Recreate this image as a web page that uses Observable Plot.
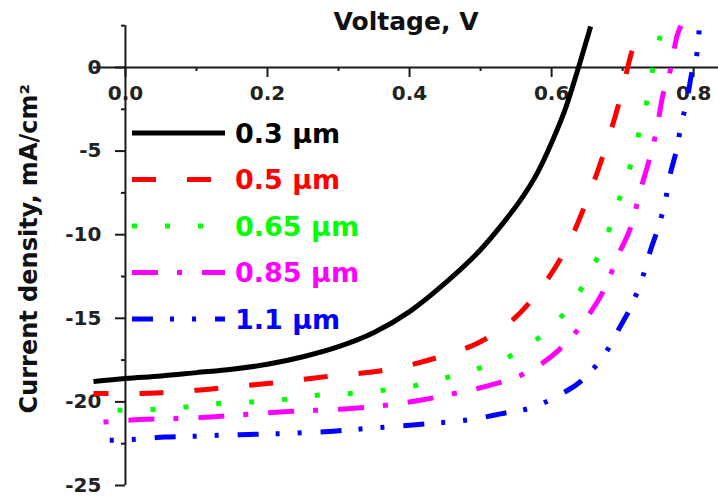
<!DOCTYPE html>
<html><head><meta charset="utf-8">
<script src="https://cdn.jsdelivr.net/npm/d3@7"></script>
<script src="https://cdn.jsdelivr.net/npm/@observablehq/plot@0.6"></script>
<style>
body{margin:0;background:#fff;}
#chart{position:relative;width:718px;height:496px;overflow:hidden;}
</style></head><body><div id="chart"></div>
<script>
// Series metadata
const seriesNames = ["0.3 \u03bcm", "0.5 \u03bcm", "0.65 \u03bcm", "0.85 \u03bcm", "1.1 \u03bcm"];
const seriesColors = ["#000000", "#ff0000", "#00ff00", "#ff00ff", "#0000ff"];
const seriesDash = [null, "24,31", "5,28", "26,19,5,20", "21,17,4,18,4,19"];
const seriesDashOffset = [0, 9, 9, 35, 21];

// Voltage (V) and current density (mA/cm^2) per series
const v03 = [-0.045, 0, 0.05, 0.1, 0.15, 0.2, 0.25, 0.3, 0.35, 0.4, 0.45, 0.5, 0.53, 0.56, 0.58, 0.6, 0.62, 0.64, 0.655];
const j03 = [-18.78, -18.6, -18.45, -18.25, -18.05, -17.75, -17.3, -16.7, -15.85, -14.6, -12.9, -10.9, -9.4, -7.7, -6.3, -4.5, -2.4, 0.3, 2.45];

const v05 = [-0.045, 0, 0.05, 0.1, 0.15, 0.2, 0.25, 0.3, 0.35, 0.4, 0.45, 0.5, 0.54, 0.576, 0.6, 0.622, 0.651, 0.676, 0.697, 0.715, 0.725];
const j05 = [-19.5, -19.5, -19.45, -19.3, -19.1, -18.9, -18.65, -18.4, -18.2, -17.8, -17.2, -16.4, -15.3, -13.7, -12.3, -10.7, -7.8, -4.8, -1.8, 1.2, 2.0];

const v065 = [-0.045, -0.008, 0.039, 0.085, 0.131, 0.179, 0.225, 0.27, 0.317, 0.363, 0.411, 0.456, 0.504, 0.549, 0.596, 0.632, 0.656, 0.676, 0.69, 0.704, 0.717, 0.727, 0.737, 0.744, 0.754];
const j065 = [-20.55, -20.5, -20.45, -20.3, -20.1, -20.0, -19.85, -19.6, -19.5, -19.3, -19.0, -18.5, -17.9, -17.1, -15.65, -13.9, -12.1, -10.3, -8.55, -6.8, -5.0, -3.2, -1.5, 0.3, 2.0];

const v085 = [-0.045, -0.028, 0.021, 0.07, 0.12, 0.168, 0.218, 0.268, 0.317, 0.366, 0.415, 0.463, 0.514, 0.562, 0.61, 0.649, 0.676, 0.694, 0.713, 0.724, 0.737, 0.748, 0.756, 0.768, 0.776, 0.782];
const j085 = [-21.25, -21.2, -21.05, -21.0, -20.9, -20.75, -20.6, -20.5, -20.4, -20.2, -19.9, -19.5, -19.0, -18.3, -16.9, -15.0, -13.1, -11.2, -9.35, -7.5, -5.6, -3.7, -1.8, 0, 1.8, 2.5];

const v11 = [-0.046, -0.018, 0.011, 0.056, 0.1, 0.13, 0.173, 0.218, 0.249, 0.293, 0.337, 0.368, 0.413, 0.455, 0.486, 0.53, 0.575, 0.606, 0.648, 0.68, 0.694, 0.715, 0.73, 0.738, 0.751, 0.761, 0.766, 0.776, 0.783, 0.79, 0.797, 0.806, 0.808];
const j11 = [-22.3, -22.3, -22.25, -22.1, -22.05, -22.0, -21.95, -21.9, -21.85, -21.75, -21.6, -21.5, -21.35, -21.2, -21.05, -20.7, -20.3, -19.7, -18.5, -16.8, -15.7, -14.0, -12.3, -11.1, -9.45, -7.8, -6.6, -4.9, -3.3, -2.1, -0.4, 1.25, 2.45];

const voltages = [v03, v05, v065, v085, v11];
const currents = [j03, j05, j065, j085, j11];

// Axes
const xMajorTicks = [0, 0.2, 0.4, 0.6, 0.8];
const xMinorTicks = [0.1, 0.3, 0.5, 0.7];
const xTickLabels = ["0.0", "0.2", "0.4", "0.6", "0.8"];
const yMajorTicks = [0, -5, -10, -15, -20, -25];
const yMinorTicks = [2.5, -2.5, -7.5, -12.5, -17.5, -22.5];
const yTickLabels = ["0", "-5", "-10", "-15", "-20", "-25"];
const xTitle = "Voltage, V";
const yTitle = "Current density, mA/cm\u00b2";

const series = seriesNames.map((name, k) =>
  voltages[k].map((v, i) => ({v, j: currents[k][i], name}))
);

const axisColor = "#1a1a1a";
const lineMarks = series.map((data, k) =>
  Plot.line(data, {
    x: "v", y: "j", stroke: seriesColors[k], strokeWidth: 5,
    strokeDasharray: seriesDash[k] || undefined,
    strokeDashoffset: seriesDashOffset[k],
    strokeLinecap: "butt",
    curve: "monotone-x", clip: true
  })
);

const chart = Plot.plot({
  width: 718, height: 496,
  marginLeft: 93, marginRight: 0, marginTop: 23.5, marginBottom: 11,
  style: {fontFamily: "DejaVu Sans", fontWeight: "bold", background: "#fff", overflow: "visible"},
  x: {domain: [-0.045, 0.835], axis: null},
  y: {domain: [-25, 2.6], axis: null},
  marks: [
    // axis lines
    Plot.ruleY([0], {stroke: axisColor, strokeWidth: 2}),
    Plot.ruleX([0], {y1: -25, y2: 2.5, stroke: axisColor, strokeWidth: 2}),
    // x ticks (downward from y=0)
    Plot.ruleX(xMajorTicks, {x: d => d, y1: 0, y2: 0, insetBottom: -10, stroke: axisColor, strokeWidth: 2}),
    Plot.ruleX(xMinorTicks, {x: d => d, y1: 0, y2: 0, insetBottom: -4, stroke: axisColor, strokeWidth: 2}),
    // y ticks (leftward from x=0)
    Plot.ruleY(yMajorTicks, {y: d => d, x1: 0, x2: 0, insetLeft: -10, stroke: axisColor, strokeWidth: 2}),
    Plot.ruleY(yMinorTicks, {y: d => d, x1: 0, x2: 0, insetLeft: -4, stroke: axisColor, strokeWidth: 2}),
    // tick labels
    Plot.text(xMajorTicks, {x: d => d, y: 0, text: (d, i) => xTickLabels[i], dy: 26, fontSize: 20, fill: "#222"}),
    Plot.text(yMajorTicks, {x: 0, y: d => d, text: (d, i) => yTickLabels[i], dx: -24, textAnchor: "end", fontSize: 20, fill: "#222"}),
    // titles
    Plot.text([xTitle], {frameAnchor: "top", lineAnchor: "middle", dy: -2, fontSize: 25, fill: "#111"}),
    Plot.text([yTitle], {frameAnchor: "left", textAnchor: "middle", rotate: -90, lineAnchor: "middle", dx: -64, dy: -6, fontSize: 24, fill: "#111"}),
    ...lineMarks
  ]
});

document.getElementById("chart").appendChild(chart);

// Legend drawn inside the same SVG
const svg = d3.select(chart);
const lg = svg.append("g").attr("class", "legend").attr("text-anchor", "start");
seriesNames.forEach((name, k) => {
  const yy = 133 + k * 46.5;
  lg.append("line")
    .attr("x1", 132).attr("x2", 225).attr("y1", yy).attr("y2", yy)
    .attr("stroke", seriesColors[k]).attr("stroke-width", 5)
    .attr("stroke-dasharray", seriesDash[k] || null);
  lg.append("text")
    .attr("x", 235).attr("y", yy).attr("dy", "0.36em")
    .attr("text-anchor", "start")
    .attr("fill", seriesColors[k])
    .attr("font-family", "DejaVu Sans").attr("font-weight", "bold")
    .attr("font-size", 27)
    .text(name);
});
</script></body></html>
